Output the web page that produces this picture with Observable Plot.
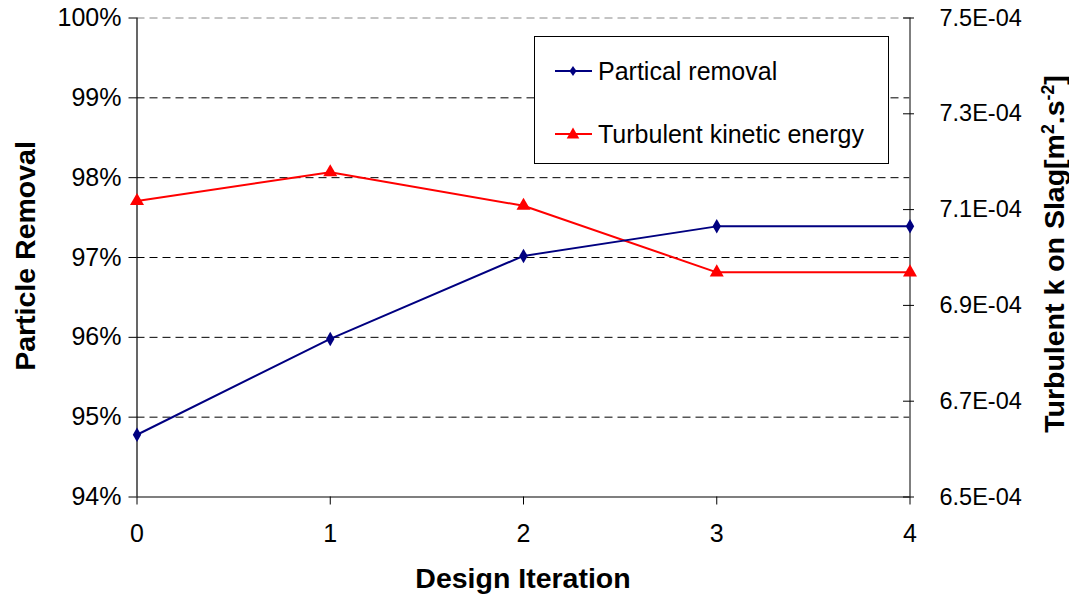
<!DOCTYPE html>
<html>
<head>
<meta charset="utf-8">
<script src="https://cdn.jsdelivr.net/npm/d3@7"></script>
<script src="https://cdn.jsdelivr.net/npm/@observablehq/plot@0.6"></script>
<style>
  html, body { margin: 0; padding: 0; background: #fff; }
  #wrap { position: relative; width: 1069px; height: 598px; font-family: "Liberation Sans", Arial, sans-serif; color: #000; }
  #wrap svg { display: block; }
  .title { position: absolute; font-weight: bold; font-size: 28.5px; white-space: nowrap; }
  .vtitle { transform: translate(-50%, -50%) rotate(-90deg); }
  .htitle { transform: translate(-50%, -50%); }
  #legend { position: absolute; left: 534px; top: 36px; width: 353px; height: 126px; border: 1px solid #000; background: #fff; font-size: 25px; }
  .lrow { position: absolute; left: 20px; display: flex; align-items: center; height: 30px; transform: translateY(-50%); }
  .lrow span { margin-left: 6px; }
  sup { font-size: 0.62em; vertical-align: 0.55em; line-height: 0; }
</style>
</head>
<body>
<div id="wrap"></div>
<script>
// ---- data ----
const iterations = [0, 1, 2, 3, 4];
const particleRemoval = [94.78, 95.98, 97.02, 97.39, 97.39];          // percent
const turbulentK = [7.118e-4, 7.178e-4, 7.108e-4, 6.969e-4, 6.969e-4]; // m^2 s^-2
const seriesNames = ["Partical removal", "Turbulent kinetic energy"];
const seriesColors = ["#000080", "#ff0000"];
const leftTicks = [94, 95, 96, 97, 98, 99, 100];
const gridValues = [95, 96, 97, 98, 99];
const topGrid = [100];
const rightTicks = [6.5e-4, 6.7e-4, 6.9e-4, 7.1e-4, 7.3e-4, 7.5e-4];
const leftDomain = [94, 100];
const rightDomain = [6.5e-4, 7.5e-4];

// map right-axis values onto the left scale
const toLeft = v => leftDomain[0] + (v - rightDomain[0]) / (rightDomain[1] - rightDomain[0]) * (leftDomain[1] - leftDomain[0]);
const fromLeft = p => rightDomain[0] + (p - leftDomain[0]) / (leftDomain[1] - leftDomain[0]) * (rightDomain[1] - rightDomain[0]);
const fmtE = v => {
  const [m, e] = v.toExponential(1).split("e");
  const n = Math.abs(+e);
  return m + "E" + (+e < 0 ? "-" : "+") + String(n).padStart(2, "0");
};

const blue = iterations.map((x, i) => ({x, y: particleRemoval[i]}));
const red = iterations.map((x, i) => ({x, y: toLeft(turbulentK[i])}));
const rightTickPos = rightTicks.map(toLeft);

const chart = Plot.plot({
  width: 1069,
  height: 598,
  marginLeft: 136.5,
  marginRight: 159.5,
  marginTop: 17.5,
  marginBottom: 101.5,
  style: { fontFamily: "'Liberation Sans', Arial, sans-serif", fontSize: "25px", color: "#000", background: "#fff", overflow: "visible" },
  x: { domain: [0, 4] },
  y: { domain: leftDomain },
  marks: [
    Plot.ruleY(gridValues, { stroke: "#000", strokeDasharray: "8,5", strokeWidth: 1 }),
    Plot.ruleY(topGrid, { stroke: "#888", strokeDasharray: "8,5", strokeWidth: 1 }),
    Plot.ruleX([0], { stroke: "#000", strokeWidth: 1.2 }),
    Plot.ruleX([4], { stroke: "#555", strokeWidth: 1.5 }),
    Plot.ruleY([94], { stroke: "#000", strokeWidth: 1.2 }),
    Plot.axisX({ ticks: iterations, tickFormat: d => String(d), tickSize: 8, tickPadding: 19, label: null, fontSize: 25 }),
    Plot.axisY({ anchor: "left", ticks: leftTicks, tickFormat: d => d + "%", tickSize: 8, tickPadding: 7.5, label: null, fontSize: 25 }),
    // right-axis tick marks crossing the axis line
    Plot.axisY({ anchor: "right", ticks: rightTickPos, tickFormat: () => "", tickSize: 11, dx: -7.5, label: null }),
    // right-axis tick labels
    Plot.axisY({ anchor: "right", ticks: rightTickPos, tickFormat: d => fmtE(fromLeft(d)), tickSize: 0, tickPadding: 29.5, label: null, fontSize: 23.5 }),
    Plot.line(red, { x: "x", y: "y", stroke: seriesColors[1], strokeWidth: 2 }),
    Plot.dot(red, { x: "x", y: "y", symbol: "triangle", r: 5.2, fill: seriesColors[1], stroke: "none" }),
    Plot.line(blue, { x: "x", y: "y", stroke: seriesColors[0], strokeWidth: 2 }),
    Plot.dot(blue, { x: "x", y: "y", symbol: "diamond", r: 4.4, fill: seriesColors[0], stroke: "none" })
  ]
});

const wrap = document.getElementById("wrap");
wrap.appendChild(chart);

// titles
function addTitle(html, cls, x, y) {
  const d = document.createElement("div");
  d.className = "title " + cls;
  d.style.left = x + "px";
  d.style.top = y + "px";
  d.innerHTML = html;
  wrap.appendChild(d);
}
addTitle("Particle Removal", "vtitle", 25, 256);
addTitle("Design Iteration", "htitle", 523, 578);
addTitle("Turbulent k on Slag[m<sup>2</sup>.s<sup>-2</sup>]", "vtitle", 1054, 254);

// legend
const legend = document.createElement("div");
legend.id = "legend";
const rowY = [34, 97];
const symbols = ["diamond", "triangle"];
seriesNames.forEach((name, i) => {
  const row = document.createElement("div");
  row.className = "lrow";
  row.style.top = rowY[i] + "px";
  const sym = symbols[i] === "diamond"
    ? `<path d="M18,10 L21.5,15 L18,20 L14.5,15 Z" fill="${seriesColors[i]}"/>`
    : `<path d="M18,8.5 L24.3,19.5 L11.7,19.5 Z" fill="${seriesColors[i]}"/>`;
  row.innerHTML = `<svg width="37" height="30"><line x1="0" x2="37" y1="15" y2="15" stroke="${seriesColors[i]}" stroke-width="2"/>${sym}</svg><span>${name}</span>`;
  legend.appendChild(row);
});
wrap.appendChild(legend);
</script>
</body>
</html>
